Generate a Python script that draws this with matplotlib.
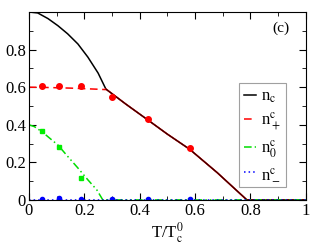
import matplotlib
matplotlib.use('Agg')
import matplotlib.pyplot as plt
from matplotlib.ticker import MultipleLocator

plt.rcParams['font.family'] = 'Liberation Serif'
plt.rcParams['mathtext.fontset'] = 'stix'

# n_c curve (black)
t_c = [0.0, 0.032, 0.069, 0.105, 0.14, 0.177, 0.213, 0.25, 0.278,
       0.35, 0.43, 0.50, 0.58, 0.68, 0.787, 0.9, 1.0]
n_c = [1.0, 0.995, 0.965, 0.927, 0.884, 0.83, 0.76, 0.675, 0.59,
       0.51, 0.425, 0.35, 0.27, 0.145, 0.0, 0.0, 0.0]

# n^c_+ curve (red dashed below T*, solid above)
t_plus_lo = [0.0, 0.05, 0.1, 0.15, 0.2, 0.25, 0.278]
n_plus_lo = [0.6, 0.599, 0.597, 0.595, 0.592, 0.589, 0.587]
t_plus_hi = [0.278, 0.35, 0.43, 0.50, 0.58, 0.68, 0.787, 0.9, 1.0]
n_plus_hi = [0.59, 0.51, 0.425, 0.35, 0.27, 0.145, 0.0, 0.0, 0.0]

# n^c_0 curve (green dash-dot)
t_zero = [0.0, 0.02, 0.05, 0.07, 0.105, 0.14, 0.177, 0.213, 0.245, 0.267, 0.4, 0.6, 0.8, 1.0]
n_zero = [0.4, 0.39, 0.36, 0.335, 0.292, 0.232, 0.17, 0.107, 0.054, 0.0, 0.0, 0.0, 0.0, 0.0]

# n^c_- curve (blue dotted)
t_minus = [0.0, 1.0]
n_minus = [0.0, 0.0]

# simulation points
t_pts = [0.047, 0.108, 0.19, 0.30, 0.43, 0.58]
plus_pts = [0.605, 0.608, 0.605, 0.55, 0.43, 0.275]
zero_pts = [0.365, 0.28, 0.115, 0.0, 0.0, 0.0]
minus_pts = [0.006, 0.008, 0.006, 0.003, 0.003, 0.003]

fig = plt.figure(figsize=(3.17, 2.45), dpi=100)
ax = fig.add_axes([0.091, 0.184, 0.874, 0.767])

ax.plot(t_c, n_c, color='black', lw=1.1, label=r'n$_\mathrm{c}$')
ax.plot(t_plus_lo, n_plus_lo, color='red', lw=1.1, ls=(0, (5, 3)), label=r'n$^\mathrm{c}_+$')
ax.plot(t_plus_hi, n_plus_hi, color='red', lw=1.1)
ax.plot(t_c[8:], n_c[8:], color='black', lw=0.6)
ax.plot(t_zero, n_zero, color='#00dd00', lw=1.1, ls=(0, (5, 2, 1, 2, 1, 2)), label=r'n$^\mathrm{c}_0$')
ax.plot(t_minus, n_minus, color='blue', lw=1.1, ls=(0, (1, 2)), label=r'n$^\mathrm{c}_-$')

ax.plot(t_pts, plus_pts, 'o', color='red', ms=4, ls='none')
ax.plot(t_pts, zero_pts, 's', color='#00ee00', ms=3.5, ls='none')
ax.plot(t_pts, minus_pts, 'o', color='blue', ms=3, ls='none')

ax.set_xlim(0, 1)
ax.set_ylim(0, 1.0)
ax.xaxis.set_minor_locator(MultipleLocator(0.1))
ax.yaxis.set_minor_locator(MultipleLocator(0.1))
ax.set_xticks([0, 0.2, 0.4, 0.6, 0.8, 1.0])
ax.set_xticklabels(['0', '0.2', '0.4', '0.6', '0.8', '1'])
ax.set_yticks([0, 0.2, 0.4, 0.6, 0.8])
ax.set_yticklabels(['0', '0.2', '0.4', '0.6', '0.8'])
ax.tick_params(which='both', direction='in', top=True, right=True, labelsize=12, pad=2)
ax.tick_params(which='major', length=5)
ax.tick_params(which='minor', length=3)

ax.set_xlabel(r'T/T$^\mathrm{0}_\mathrm{c}$', fontsize=12, labelpad=1)
ax.text(0.88, 0.895, '(c)', fontsize=11)

leg = ax.legend(loc='upper left', bbox_to_anchor=(0.76, 0.62), fontsize=12, frameon=True,
                fancybox=False, edgecolor='#888888', handlelength=0.7, handletextpad=0.3,
                borderpad=0.3, labelspacing=0.35, borderaxespad=0)
leg.get_frame().set_linewidth(0.8)

fig.savefig('out.png', dpi=100)
